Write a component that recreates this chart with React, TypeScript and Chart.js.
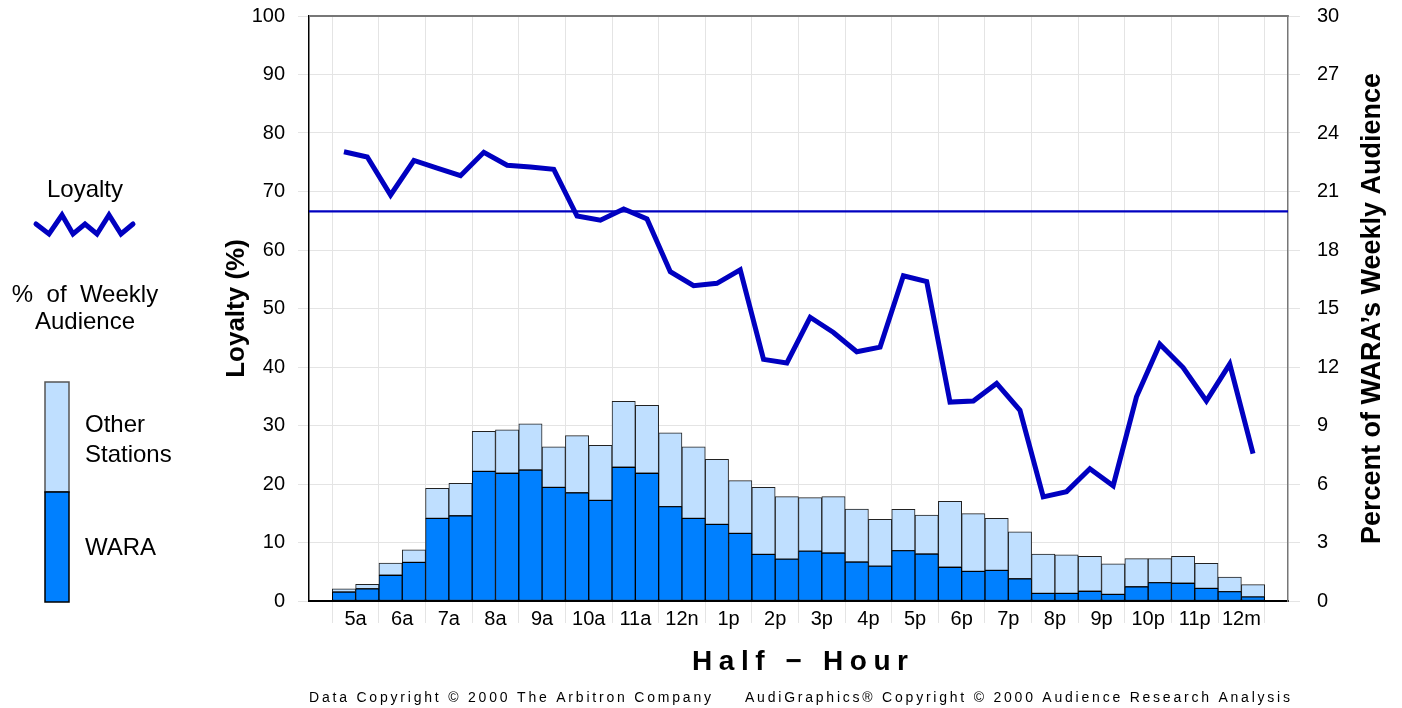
import React, { useEffect, useRef } from 'react';
import { Chart, registerables } from 'chart.js';

Chart.register(...registerables);

// ---- data ----
const HOUR_LABELS = ['5a', '6a', '7a', '8a', '9a', '10a', '11a', '12n', '1p', '2p', '3p', '4p', '5p', '6p', '7p', '8p', '9p', '10p', '11p', '12m'];

// Loyalty (%) per half-hour, left axis
const LOYALTY = [76.8, 75.9, 69.4, 75.3, 74.0, 72.7, 76.7, 74.5, 74.2, 73.8, 65.8, 65.1, 67.0, 65.3, 56.3, 53.9, 54.3, 56.6, 41.3, 40.7, 48.5, 45.9, 42.6, 43.4, 55.6, 54.6, 34.0, 34.2, 37.2, 32.6, 17.8, 18.7, 22.6, 19.7, 34.9, 43.9, 39.9, 34.2, 40.5, 25.2];
const AVERAGE_LOYALTY = 66.6;

// Percent of weekly audience per half-hour, right axis (stacked)
const WARA_SHARE = [0.46, 0.63, 1.32, 1.98, 4.24, 4.37, 6.65, 6.55, 6.72, 5.83, 5.55, 5.16, 6.86, 6.55, 4.84, 4.24, 3.93, 3.47, 2.39, 2.15, 2.56, 2.46, 2.0, 1.79, 2.58, 2.41, 1.73, 1.52, 1.57, 1.14, 0.39, 0.39, 0.5, 0.34, 0.73, 0.94, 0.91, 0.65, 0.48, 0.21];
const OTHER_SHARE = [0.16, 0.23, 0.63, 0.65, 1.54, 1.67, 2.05, 2.23, 2.37, 2.08, 2.93, 2.82, 3.38, 3.49, 3.79, 3.67, 3.34, 2.7, 3.44, 3.2, 2.74, 2.89, 2.72, 2.4, 2.12, 2.0, 3.38, 2.96, 2.67, 2.41, 2.02, 1.98, 1.79, 1.57, 1.44, 1.23, 1.38, 1.28, 0.75, 0.63];

const LEFT_TICKS = { min: 0, max: 100, step: 10 };
const RIGHT_TICKS = { min: 0, max: 30, step: 3 };
const SLOT_COUNT = 42; // 40 half-hours with one empty slot on each side

// ---- styles ----
const FONT = "'Liberation Sans', Arial, Helvetica, sans-serif";
const LINE_BLUE = '#0000C0';
const WARA_BLUE = '#0080FF';
const OTHER_BLUE = '#BFDFFF';
const GRID = '#e4e4e4';

const slotX = (i: number) => i + 1.5;

function drawSpaced(ctx: CanvasRenderingContext2D, text: string, x0: number, x1: number, y: number) {
  const chars = Array.from(text);
  const widths = chars.map((c) => ctx.measureText(c).width);
  const sum = widths.reduce((a, b) => a + b, 0);
  const gap = chars.length > 1 ? (x1 - x0 - sum) / (chars.length - 1) : 0;
  let x = x0;
  ctx.textAlign = 'left';
  chars.forEach((c, i) => {
    ctx.fillText(c, x, y);
    x += widths[i] + gap;
  });
}

const decorPlugin = {
  id: 'decor',
  afterDraw(chart: any) {
    const { ctx, chartArea } = chart;
    const { left, right, top, bottom } = chartArea;
    ctx.save();

    // top frame line
    ctx.strokeStyle = '#777';
    ctx.lineWidth = 2;
    ctx.beginPath();
    ctx.moveTo(left, top);
    ctx.lineTo(right + 0.75, top);
    ctx.stroke();

    ctx.fillStyle = '#000';
    const midY = (top + bottom) / 2;

    // axis titles
    ctx.font = `bold 26px ${FONT}`;
    ctx.textAlign = 'center';
    ctx.textBaseline = 'middle';
    ctx.save();
    ctx.translate(237, midY);
    ctx.rotate(-Math.PI / 2);
    ctx.fillText('Loyalty (%)', 0, 0);
    ctx.restore();

    ctx.font = `bold 27px ${FONT}`;
    ctx.save();
    ctx.translate(1373, midY);
    ctx.rotate(-Math.PI / 2);
    ctx.fillText('Percent of WARA\u2019s Weekly Audience', 0, 0);
    ctx.restore();

    // x title
    ctx.textBaseline = 'alphabetic';
    ctx.font = `bold 28px ${FONT}`;
    drawSpaced(ctx, 'Half \u2212 Hour', 692, 908, 670);

    // footer
    ctx.font = `14px ${FONT}`;
    drawSpaced(ctx, 'Data Copyright \u00A9 2000 The Arbitron Company', 309, 711, 702);
    drawSpaced(ctx, 'AudiGraphics\u00AE Copyright \u00A9 2000 Audience Research Analysis', 745, 1290, 702);

    // legend
    ctx.font = `24px ${FONT}`;
    ctx.textAlign = 'center';
    ctx.fillText('Loyalty', 85, 197);

    ctx.strokeStyle = LINE_BLUE;
    ctx.lineWidth = 5;
    ctx.lineJoin = 'miter';
    ctx.lineCap = 'round';
    const wave = [[36, 224], [49, 234], [62, 215], [73, 234], [85, 224], [97, 234], [109, 215], [121, 234], [133, 224]];
    ctx.beginPath();
    wave.forEach(([x, y], i) => (i === 0 ? ctx.moveTo(x, y) : ctx.lineTo(x, y)));
    ctx.stroke();

    ctx.fillText('%  of  Weekly', 85, 302);
    ctx.fillText('Audience', 85, 329);

    ctx.lineWidth = 1.5;
    ctx.fillStyle = OTHER_BLUE;
    ctx.fillRect(45, 382, 24, 110);
    ctx.strokeStyle = '#555';
    ctx.strokeRect(45, 382, 24, 110);
    ctx.fillStyle = WARA_BLUE;
    ctx.fillRect(45, 492, 24, 110);
    ctx.strokeStyle = '#000';
    ctx.strokeRect(45, 492, 24, 110);

    ctx.fillStyle = '#000';
    ctx.textAlign = 'left';
    ctx.fillText('Other', 85, 432);
    ctx.fillText('Stations', 85, 462);
    ctx.fillText('WARA', 85, 555);

    ctx.restore();
  },
};

const fixVertical = (w: number) => (s: any) => {
  s.width = w;
  s.paddingTop = 0;
  s.paddingBottom = 0;
};

export default function App() {
  const ref = useRef<HTMLCanvasElement>(null);

  useEffect(() => {
    document.body.style.margin = '0';
    const tickFont = { family: FONT, size: 20 };
    const chart = new Chart(ref.current as HTMLCanvasElement, {
      type: 'bar',
      data: {
        datasets: [
          {
            type: 'line',
            label: 'Loyalty',
            data: LOYALTY.map((v, i) => ({ x: slotX(i), y: v })),
            yAxisID: 'y',
            xAxisID: 'x',
            borderColor: LINE_BLUE,
            borderWidth: 5,
            pointRadius: 0,
            fill: false,
            tension: 0,
            borderJoinStyle: 'miter',
            order: 0,
          },
          {
            type: 'line',
            label: 'Average',
            data: [
              { x: 0, y: AVERAGE_LOYALTY },
              { x: SLOT_COUNT, y: AVERAGE_LOYALTY },
            ],
            yAxisID: 'y',
            xAxisID: 'x',
            borderColor: LINE_BLUE,
            borderWidth: 2.2,
            pointRadius: 0,
            fill: false,
            order: 0,
          },
          {
            type: 'bar',
            label: 'WARA',
            data: WARA_SHARE.map((v, i) => ({ x: slotX(i), y: v })),
            yAxisID: 'y2',
            xAxisID: 'x',
            backgroundColor: WARA_BLUE,
            borderColor: '#000',
            borderWidth: 1,
            borderSkipped: false,
            barPercentage: 1,
            categoryPercentage: 1,
            grouped: false,
            order: 1,
          },
          {
            type: 'bar',
            label: 'Other Stations',
            data: OTHER_SHARE.map((v, i) => ({ x: slotX(i), y: v })),
            yAxisID: 'y2',
            xAxisID: 'x',
            backgroundColor: OTHER_BLUE,
            borderColor: '#222',
            borderWidth: 1,
            borderSkipped: false,
            barPercentage: 1,
            categoryPercentage: 1,
            grouped: false,
            order: 1,
          },
        ] as any,
      },
      options: {
        animation: false,
        responsive: false,
        events: [],
        layout: { padding: { left: 200, top: 16, right: 0, bottom: 0 } },
        plugins: {
          legend: { display: false },
          tooltip: { enabled: false },
          title: { display: false },
        },
        scales: {
          x: {
            type: 'linear',
            min: 0,
            max: SLOT_COUNT,
            offset: false,
            grid: {
              offset: false,
              color: (c: any) => (c.tick && Math.round(c.tick.value) % 2 === 1 ? GRID : 'rgba(0,0,0,0)'),
              lineWidth: 1,
              tickLength: 22,
            },
            border: { color: '#000', width: 2 },
            ticks: {
              stepSize: 1,
              autoSkip: false,
              maxRotation: 0,
              minRotation: 0,
              padding: -16,
              color: '#000',
              font: tickFont,
              callback: (value: any) => {
                const v = Math.round(Number(value));
                if (v % 2 === 0 && v >= 2 && v <= 40) return HOUR_LABELS[v / 2 - 1];
                return '';
              },
            },
            afterFit: (s: any) => {
              s.height = 107;
              s.paddingLeft = 0;
              s.paddingRight = 0;
            },
          },
          y: {
            type: 'linear',
            position: 'left',
            min: LEFT_TICKS.min,
            max: LEFT_TICKS.max,
            ticks: { stepSize: LEFT_TICKS.step, padding: 13, color: '#000', font: tickFont },
            grid: { color: GRID, tickLength: 11 },
            border: { color: '#000', width: 1.5 },
            afterFit: fixVertical(109),
          },
          y2: {
            type: 'linear',
            position: 'right',
            min: RIGHT_TICKS.min,
            max: RIGHT_TICKS.max,
            stacked: true,
            ticks: { stepSize: RIGHT_TICKS.step, padding: 17, color: '#000', font: tickFont },
            grid: { drawOnChartArea: false, color: GRID, tickLength: 12 },
            border: { color: '#777', width: 1.5 },
            afterFit: fixVertical(114),
          },
        },
      } as any,
      plugins: [decorPlugin],
    });
    return () => chart.destroy();
  }, []);

  return (
    <div style={{ width: 1402, height: 708, background: '#fff' }}>
      <canvas ref={ref} width={1402} height={708} style={{ display: 'block' }} />
    </div>
  );
}
